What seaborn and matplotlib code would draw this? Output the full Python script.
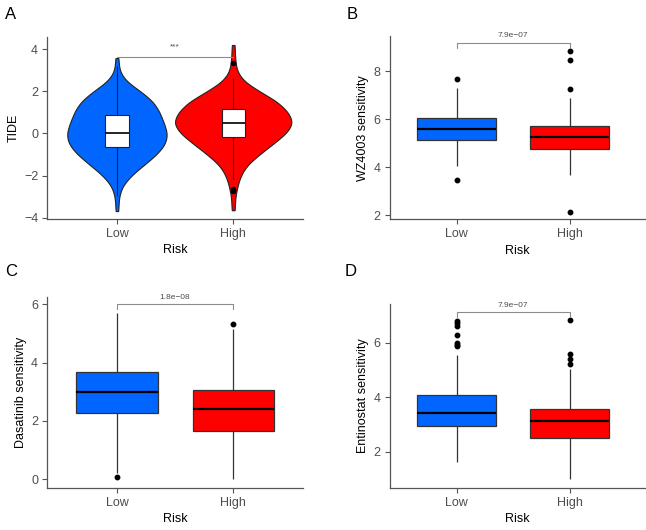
import numpy as np
import pandas as pd
import matplotlib
matplotlib.use("Agg")
import matplotlib.pyplot as plt
import seaborn as sns

sns.set_style("white")
plt.rcParams["font.family"] = ["Liberation Sans", "DejaVu Sans"]

risk_order = ["Low", "High"]
risk_palette = {"Low": "#0066FF", "High": "#FF0000"}

# Panel A: TIDE violin outline, read as half-width (px) at each TIDE level
tide_levels_low = [3.58, 3.5, 3.0, 2.5, 2.0, 1.5, 1.0, 0.5, 0.0, -0.5, -1.0, -1.5, -2.0, -2.5, -3.0, -3.5, -3.69]
tide_width_low = [1, 1, 2, 8, 24, 37, 43, 47, 51, 49, 40, 27, 14, 5, 2, 1, 1]
tide_levels_high = [4.2, 4.0, 3.5, 3.0, 2.5, 2.0, 1.5, 1.0, 0.5, 0.0, -0.5, -1.0, -1.5, -2.0, -2.5, -3.0, -3.5, -3.65]
tide_width_high = [1, 1, 2, 3, 9, 25, 43, 53, 58, 51, 38, 25, 13, 7, 4, 2, 1, 1]

# box summaries: whisker low, Q1, median, Q3, whisker high
tide_low_box = [-2.98, -0.66, 0.02, 0.89, 3.20]
tide_low_out = []
tide_high_box = [-2.15, -0.18, 0.48, 1.16, 2.63]
tide_high_out = [3.33, -2.62, -2.72]

wz4003_low_box = [4.05, 5.14, 5.60, 6.05, 7.29]
wz4003_low_out = [7.67, 3.47]
wz4003_high_box = [3.68, 4.74, 5.27, 5.73, 6.87]
wz4003_high_out = [7.26, 8.47, 8.85, 2.15]

dasatinib_low_box = [0.21, 2.27, 2.99, 3.67, 5.69]
dasatinib_low_out = [0.07]
dasatinib_high_box = [0.01, 1.64, 2.40, 3.06, 5.15]
dasatinib_high_out = [5.33]

entinostat_low_box = [1.63, 2.94, 3.42, 4.08, 5.55]
entinostat_low_out = [5.87, 5.92, 5.98, 6.27, 6.62, 6.72, 6.80]
entinostat_high_box = [1.00, 2.50, 3.12, 3.57, 5.03]
entinostat_high_out = [5.22, 5.40, 5.57, 6.82]

p_labels = ["***", "7.9e\u221207", "1.8e\u221208", "7.9e\u221207"]
bracket_y = [3.62, 9.19, 6.00, 7.12]
label_y = [3.95, 9.36, 6.10, 7.24]
bracket_drop = [0.0, 0.2, 0.15, 0.17]


def box_sample(stats, outliers):
    """Observations whose quartiles, whiskers and outliers match the summary."""
    lo, q1, med, q3, hi = stats
    below = [v for v in outliers if v < q1]
    above = [v for v in outliers if v > q3]
    k = max(len(below), len(above)) + 1
    vals = below + [lo] * (k - len(below)) + [q1] * k + [med] + [q3] * k
    vals += above + [hi] * (k - len(above))
    return vals


def group_frame(low_vals, high_vals):
    return pd.DataFrame({
        "Risk": ["Low"] * len(low_vals) + ["High"] * len(high_vals),
        "value": list(low_vals) + list(high_vals),
    })


def style_axis(ax, ylabel, yticks, ylim, xlim):
    ax.set_xlim(*xlim)
    ax.set_ylim(*ylim)
    ax.set_yticks(yticks)
    ax.set_xlabel("Risk", fontsize=9, color="black", labelpad=3)
    ax.set_ylabel(ylabel, fontsize=9, color="black", labelpad=3)
    for side in ["top", "right"]:
        ax.spines[side].set_visible(False)
    for side in ["left", "bottom"]:
        ax.spines[side].set_color("#555555")
        ax.spines[side].set_linewidth(0.9)
    ax.tick_params(axis="both", direction="out", length=3.5, width=0.8,
                   color="#555555", labelcolor="#4d4d4d", labelsize=9, pad=3,
                   left=True, bottom=True)


def draw_bracket(ax, i):
    y = bracket_y[i]
    d = bracket_drop[i]
    ax.plot([0, 0, 1, 1], [y - d, y, y, y - d], color="#8c8c8c", lw=0.8)
    ax.text(0.5, label_y[i], p_labels[i], ha="center", va="bottom",
            fontsize=6, color="#4d4d4d")


box_kw = dict(
    width=0.7, saturation=1, linewidth=0.9, linecolor="#333333", showcaps=False,
    medianprops=dict(color="black", linewidth=1.6),
    flierprops=dict(marker="o", markersize=3.2, markerfacecolor="black",
                    markeredgecolor="black"),
    legend=False,
)

fig = plt.figure(figsize=(6.46, 5.30), dpi=100)
ax_a = fig.add_axes([0.073, 0.587, 0.396, 0.344])
ax_b = fig.add_axes([0.603, 0.586, 0.397, 0.346])
ax_c = fig.add_axes([0.073, 0.079, 0.396, 0.361])
ax_d = fig.add_axes([0.603, 0.080, 0.397, 0.346])

# A: violin + narrow white box
violin_df = group_frame(np.repeat(tide_levels_low, tide_width_low),
                        np.repeat(tide_levels_high, tide_width_high))
sns.violinplot(data=violin_df, x="Risk", y="value", hue="Risk", order=risk_order,
               palette=risk_palette, inner=None, cut=0, density_norm="area",
               common_norm=True, width=1.0, bw_adjust=0.85, saturation=1,
               linewidth=0.8, linecolor="#222222", legend=False, ax=ax_a)
tide_box_df = group_frame(box_sample(tide_low_box, tide_low_out),
                          box_sample(tide_high_box, tide_high_out))
sns.boxplot(data=tide_box_df, x="Risk", y="value", order=risk_order, color="white",
            width=0.2, saturation=1, linewidth=0.8, linecolor="#222222",
            showcaps=False,
            medianprops=dict(color="black", linewidth=1.2),
            flierprops=dict(marker="o", markersize=3, markerfacecolor="black",
                            markeredgecolor="black"), ax=ax_a)
style_axis(ax_a, "TIDE", [-4, -2, 0, 2, 4], (-4.06, 4.6), (-0.6, 1.6))
draw_bracket(ax_a, 0)

panels = [
    (ax_b, wz4003_low_box, wz4003_low_out, wz4003_high_box, wz4003_high_out,
     "WZ4003 sensitivity", [2, 4, 6, 8], (1.82, 9.47), (-0.593, 1.673)),
    (ax_c, dasatinib_low_box, dasatinib_low_out, dasatinib_high_box, dasatinib_high_out,
     "Dasatinib sensitivity", [0, 2, 4, 6], (-0.31, 6.26), (-0.6, 1.6)),
    (ax_d, entinostat_low_box, entinostat_low_out, entinostat_high_box, entinostat_high_out,
     "Entinostat sensitivity", [2, 4, 6], (0.68, 7.41), (-0.593, 1.673)),
]
for i, (ax, lb, lo, hb, ho, ylabel, yticks, ylim, xlim) in enumerate(panels, start=1):
    df = group_frame(box_sample(lb, lo), box_sample(hb, ho))
    sns.boxplot(data=df, x="Risk", y="value", hue="Risk", order=risk_order,
                palette=risk_palette, ax=ax, **box_kw)
    style_axis(ax, ylabel, yticks, ylim, xlim)
    draw_bracket(ax, i)

for letter, x, y in [("A", 0.008, 0.972), ("B", 0.537, 0.972),
                     ("C", 0.008, 0.487), ("D", 0.534, 0.487)]:
    fig.text(x, y, letter, fontsize=12, ha="left", va="center", color="black")

fig.savefig("out.png", dpi=100)
